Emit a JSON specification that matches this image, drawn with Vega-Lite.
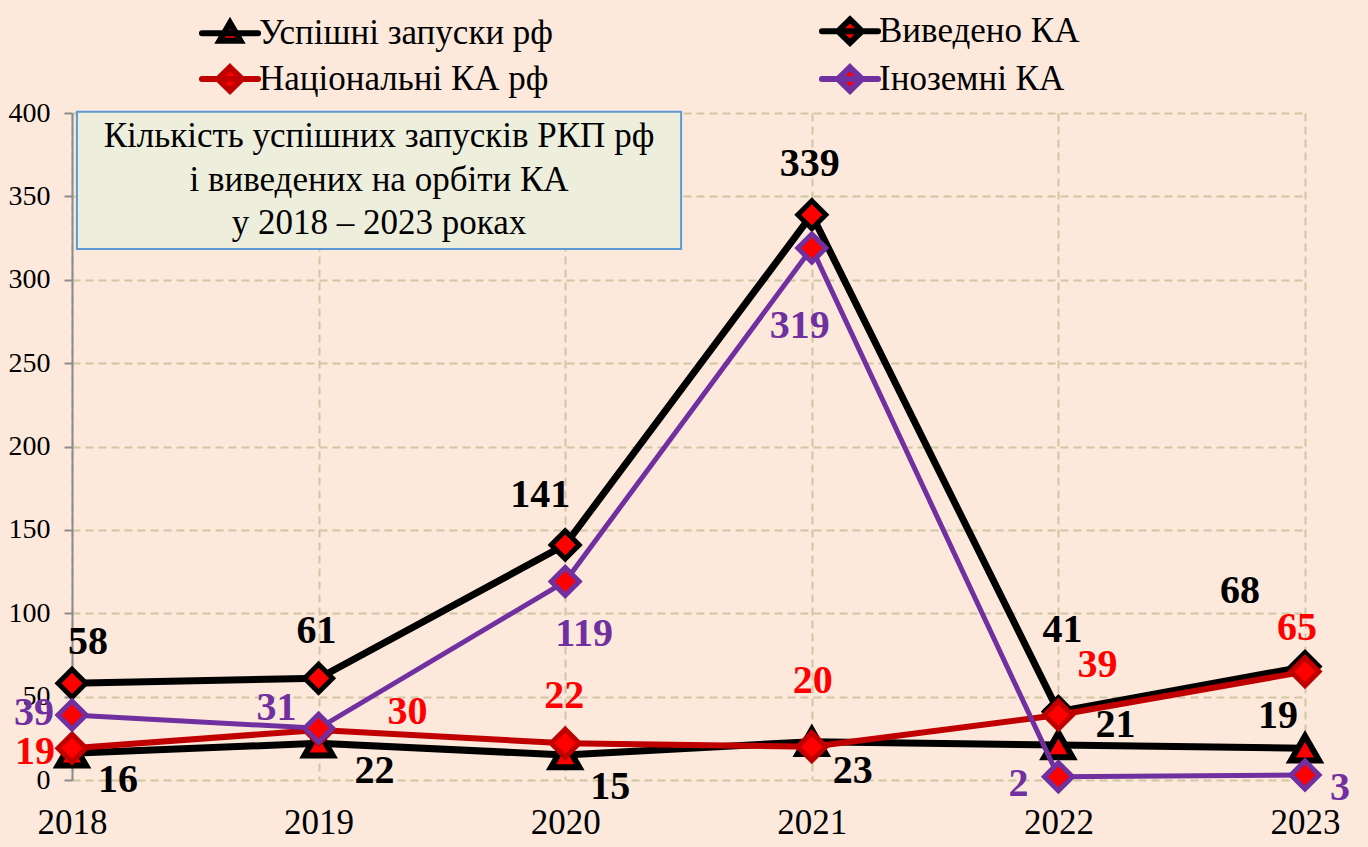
{
  "$schema": "https://vega.github.io/schema/vega-lite/v6.json",
  "width": 1233,
  "height": 667,
  "autosize": "none",
  "padding": {"left": 72, "top": 113, "right": 63, "bottom": 67},
  "background": "#FCE9DB",
  "config": {
    "view": {"stroke": null},
    "font": "Liberation Serif",
    "axis": {"labelFont": "Liberation Serif", "labelColor": "#000000", "title": null, "grid": true, "gridColor": "#CFC6A2", "gridWidth": 2, "gridDash": [8, 5], "labelFlush": false},
    "axisX": {"domain": false, "ticks": false, "labelFontSize": 35, "labelPadding": 25},
    "axisY": {"domain": true, "domainColor": "#8C8C8C", "domainWidth": 2, "ticks": true, "tickColor": "#8C8C8C", "tickSize": 8, "tickWidth": 2, "labelFontSize": 28, "labelPadding": 14},
    "legend": {"labelFont": "Liberation Serif", "labelFontSize": 35, "labelColor": "#000000", "labelLimit": 600}
  },
  "data": {
    "values": [
      {"s": "Успішні запуски рф", "year": 2018, "v": 16},
      {"s": "Успішні запуски рф", "year": 2019, "v": 22},
      {"s": "Успішні запуски рф", "year": 2020, "v": 15},
      {"s": "Успішні запуски рф", "year": 2021, "v": 23},
      {"s": "Успішні запуски рф", "year": 2022, "v": 21},
      {"s": "Успішні запуски рф", "year": 2023, "v": 19},
      {"s": "Виведено КА", "year": 2018, "v": 58},
      {"s": "Виведено КА", "year": 2019, "v": 61},
      {"s": "Виведено КА", "year": 2020, "v": 141},
      {"s": "Виведено КА", "year": 2021, "v": 339},
      {"s": "Виведено КА", "year": 2022, "v": 41},
      {"s": "Виведено КА", "year": 2023, "v": 68},
      {"s": "Національні КА рф", "year": 2018, "v": 19},
      {"s": "Національні КА рф", "year": 2019, "v": 30},
      {"s": "Національні КА рф", "year": 2020, "v": 22},
      {"s": "Національні КА рф", "year": 2021, "v": 20},
      {"s": "Національні КА рф", "year": 2022, "v": 39},
      {"s": "Національні КА рф", "year": 2023, "v": 65},
      {"s": "Іноземні КА", "year": 2018, "v": 39},
      {"s": "Іноземні КА", "year": 2019, "v": 31},
      {"s": "Іноземні КА", "year": 2020, "v": 119},
      {"s": "Іноземні КА", "year": 2021, "v": 319},
      {"s": "Іноземні КА", "year": 2022, "v": 2},
      {"s": "Іноземні КА", "year": 2023, "v": 3}
    ]
  },
  "layer": [
    {
      "data": {"values": [{}]},
      "mark": {"type": "rect", "fill": "#EDEEDC", "stroke": "#5B9BD5", "strokeWidth": 2},
      "encoding": {
        "x": {"datum": 2018.02, "type": "quantitative", "scale": {"domain": [2018, 2023], "nice": false, "zero": false},
          "axis": {"values": [2018, 2019, 2020, 2021, 2022, 2023], "format": "d", "labelFont": "Liberation Serif", "labelFontSize": 35}},
        "x2": {"datum": 2020.47},
        "y": {"datum": 400.8, "type": "quantitative", "scale": {"domain": [0, 400], "nice": false},
          "axis": {"values": [0, 50, 100, 150, 200, 250, 300, 350, 400], "labelFont": "Liberation Serif", "labelFontSize": 28}},
        "y2": {"datum": 318.4}
      }
    },
    {
      "data": {"values": [{}]},
      "mark": {"type": "text", "font": "Liberation Serif", "fontSize": 35, "lineHeight": 43.5, "align": "center", "baseline": "middle", "color": "#000000"},
      "encoding": {
        "x": {"datum": 2019.245, "type": "quantitative"},
        "y": {"datum": 386.2, "type": "quantitative"},
        "text": {"value": ["Кількість успішних запусків РКП рф", "і виведених на орбіти КА", "у 2018 – 2023 роках"]}
      }
    },
    {
      "transform": [{"filter": "datum.s == 'Успішні запуски рф'"}],
      "mark": {"type": "line", "strokeWidth": 7},
      "encoding": {
        "x": {"field": "year", "type": "quantitative"},
        "y": {"field": "v", "type": "quantitative"},
        "stroke": {"field": "s", "type": "nominal",
          "scale": {"domain": ["Успішні запуски рф", "Виведено КА", "Національні КА рф", "Іноземні КА"], "range": ["#000000", "#000000", "#C00000", "#7030A0"]},
          "legend": {"orient": "none", "legendX": 140, "legendY": -100, "direction": "horizontal", "columns": 2, "columnPadding": 255, "rowPadding": 0,
            "title": null, "padding": 0, "symbolSize": 900, "labelOffset": 11, "labelFont": "Liberation Serif", "labelFontSize": 35, "labelFontWeight": "normal", "labelColor": "#000000", "labelLimit": 600,
            "symbolStrokeWidth": 6,
            "encode": {"symbols": {"update": {
              "shape": {"signal": "datum.value == 'Успішні запуски рф' ? 'M-1.87,0L1.87,0M0,-0.7L0.7,0.5L-0.7,0.5Z' : 'M-1.87,0L1.87,0M0,-0.78L0.8,0L0,0.78L-0.8,0Z'"},
              "fill": {"value": "#FF0000"},
              "fillOpacity": {"value": 1},
              "strokeWidth": {"value": 6},
              "strokeCap": {"value": "round"},
              "size": {"value": 900}
            }}}}
        }
      }
    },
    {
      "transform": [{"filter": "datum.s == 'Успішні запуски рф'"}],
      "mark": {"type": "point", "shape": "triangle-up", "size": 800, "filled": true, "fill": "#FF0000", "strokeWidth": 6, "opacity": 1},
      "encoding": {
        "x": {"field": "year", "type": "quantitative"},
        "y": {"field": "v", "type": "quantitative"},
        "stroke": {"field": "s", "type": "nominal"}
      }
    },
    {
      "transform": [{"filter": "datum.s == 'Виведено КА'"}],
      "mark": {"type": "line", "strokeWidth": 7},
      "encoding": {
        "x": {"field": "year", "type": "quantitative"},
        "y": {"field": "v", "type": "quantitative"},
        "stroke": {"field": "s", "type": "nominal"}
      }
    },
    {
      "transform": [{"filter": "datum.s == 'Виведено КА'"}],
      "mark": {"type": "point", "shape": "diamond", "size": 784, "filled": true, "fill": "#FF0000", "strokeWidth": 5, "opacity": 1},
      "encoding": {
        "x": {"field": "year", "type": "quantitative"},
        "y": {"field": "v", "type": "quantitative"},
        "stroke": {"field": "s", "type": "nominal"}
      }
    },
    {
      "transform": [{"filter": "datum.s == 'Національні КА рф'"}],
      "mark": {"type": "line", "strokeWidth": 6},
      "encoding": {
        "x": {"field": "year", "type": "quantitative"},
        "y": {"field": "v", "type": "quantitative"},
        "stroke": {"field": "s", "type": "nominal"}
      }
    },
    {
      "transform": [{"filter": "datum.s == 'Національні КА рф'"}],
      "mark": {"type": "point", "shape": "diamond", "size": 784, "filled": true, "fill": "#FF0000", "strokeWidth": 5, "opacity": 1},
      "encoding": {
        "x": {"field": "year", "type": "quantitative"},
        "y": {"field": "v", "type": "quantitative"},
        "stroke": {"field": "s", "type": "nominal"}
      }
    },
    {
      "transform": [{"filter": "datum.s == 'Іноземні КА'"}],
      "mark": {"type": "line", "strokeWidth": 5},
      "encoding": {
        "x": {"field": "year", "type": "quantitative"},
        "y": {"field": "v", "type": "quantitative"},
        "stroke": {"field": "s", "type": "nominal"}
      }
    },
    {
      "transform": [{"filter": "datum.s == 'Іноземні КА'"}],
      "mark": {"type": "point", "shape": "diamond", "size": 784, "filled": true, "fill": "#FF0000", "strokeWidth": 5, "opacity": 1},
      "encoding": {
        "x": {"field": "year", "type": "quantitative"},
        "y": {"field": "v", "type": "quantitative"},
        "stroke": {"field": "s", "type": "nominal"}
      }
    },
    {
      "transform": [{"filter": "datum.s == 'Успішні запуски рф'"}],
      "mark": {"type": "text", "font": "Liberation Serif", "fontSize": 40, "fontWeight": "bold", "color": "#000000", "align": "center", "baseline": "middle",
        "dx": {"expr": "[46,56,45,41,57,-27][datum.year-2018]"}, "dy": {"expr": "[27,28,32,29,-20,-32][datum.year-2018]"}},
      "encoding": {
        "x": {"field": "year", "type": "quantitative"},
        "y": {"field": "v", "type": "quantitative"},
        "text": {"field": "v", "type": "quantitative"}
      }
    },
    {
      "transform": [{"filter": "datum.s == 'Виведено КА'"}],
      "mark": {"type": "text", "font": "Liberation Serif", "fontSize": 40, "fontWeight": "bold", "color": "#000000", "align": "center", "baseline": "middle",
        "dx": {"expr": "[16,-2,-25,-2,4,-65][datum.year-2018]"}, "dy": {"expr": "[-41,-47,-50,-51,-82,-76][datum.year-2018]"}},
      "encoding": {
        "x": {"field": "year", "type": "quantitative"},
        "y": {"field": "v", "type": "quantitative"},
        "text": {"field": "v", "type": "quantitative"}
      }
    },
    {
      "transform": [{"filter": "datum.s == 'Національні КА рф'"}],
      "mark": {"type": "text", "font": "Liberation Serif", "fontSize": 40, "fontWeight": "bold", "color": "#FF0000", "align": "center", "baseline": "middle",
        "dx": {"expr": "[-37,89,-1,1,39,-8][datum.year-2018]"}, "dy": {"expr": "[4,-18,-47,-66,-50,-44][datum.year-2018]"}},
      "encoding": {
        "x": {"field": "year", "type": "quantitative"},
        "y": {"field": "v", "type": "quantitative"},
        "text": {"field": "v", "type": "quantitative"}
      }
    },
    {
      "transform": [{"filter": "datum.s == 'Іноземні КА'"}],
      "mark": {"type": "text", "font": "Liberation Serif", "fontSize": 40, "fontWeight": "bold", "color": "#7030A0", "align": "center", "baseline": "middle",
        "dx": {"expr": "[-38,-42,19,-12,-40,35][datum.year-2018]"}, "dy": {"expr": "[-2,-20,52,78,7,13][datum.year-2018]"}},
      "encoding": {
        "x": {"field": "year", "type": "quantitative"},
        "y": {"field": "v", "type": "quantitative"},
        "text": {"field": "v", "type": "quantitative"}
      }
    }
  ]
}
